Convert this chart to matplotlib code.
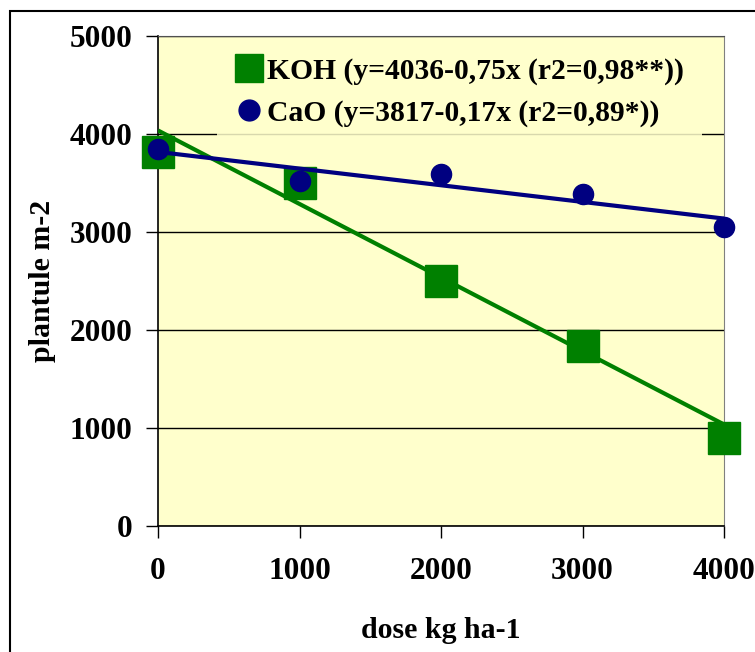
import matplotlib
matplotlib.use("Agg")
import matplotlib.pyplot as plt
from matplotlib.patches import Rectangle
import numpy as np

# ---- data ----
doses = [0, 1000, 2000, 3000, 4000]
koh = [3820, 3495, 2505, 1832, 898]
cao = [3847, 3520, 3595, 3385, 3051]
koh_fit = [4036, -0.75]   # intercept, slope
cao_fit = [3817, -0.17]
koh_label = "KOH (y=4036-0,75x (r2=0,98**))"
cao_label = "CaO (y=3817-0,17x (r2=0,89*))"
xticks = [0, 1000, 2000, 3000, 4000]
yticks = [0, 1000, 2000, 3000, 4000, 5000]
xlabel = "dose kg ha-1"
ylabel = "plantule m-2"

plt.rcParams['font.family'] = ['Liberation Serif', 'DejaVu Serif']
plt.rcParams['font.weight'] = 'bold'

W, H = 755, 652
fig = plt.figure(figsize=(W / 100, H / 100), dpi=100)
fig.patch.set_facecolor('white')

ax = fig.add_axes([158 / W, 1 - 526 / H, 566 / W, 490 / H])
ax.set_facecolor('#FFFFCC')

green = '#008000'
navy = '#000080'

ax.plot(doses, koh, linestyle='none', marker='s', markersize=23.5,
        color=green, label=koh_label, zorder=3, clip_on=False)
ax.plot(doses, cao, linestyle='none', marker='o', markersize=14.5,
        color=navy, label=cao_label, zorder=4, clip_on=False)

xl = np.array([doses[0], doses[-1]], dtype=float)
ax.plot(xl, koh_fit[0] + koh_fit[1] * xl, color=green, lw=3.0, zorder=5,
        solid_capstyle='butt')
ax.plot(xl, cao_fit[0] + cao_fit[1] * xl, color=navy, lw=3.0, zorder=5,
        solid_capstyle='butt')

ax.set_xlim(0, 4000)
ax.set_ylim(0, 5000)
ax.set_xticks(xticks)
ax.set_yticks(yticks)
ax.set_xticklabels([str(v) for v in xticks])
ax.set_yticklabels([str(v) for v in yticks])
ax.tick_params(axis='both', direction='out', length=8.5, width=1,
               labelsize=22.5, color='black')
ax.tick_params(axis='x', pad=14)
ax.tick_params(axis='y', pad=10)
for lab in ax.get_xticklabels() + ax.get_yticklabels():
    lab.set_fontweight('bold')

ax.yaxis.grid(True, color='black', lw=1)
ax.set_axisbelow(True)

for s in ['left', 'bottom']:
    ax.spines[s].set_color('black')
    ax.spines[s].set_linewidth(1.2)
ax.spines['top'].set_color('#505050')
ax.spines['right'].set_color('#808080')

ax.set_xlabel(xlabel, fontsize=21.5, fontweight='bold', labelpad=22)
ax.set_ylabel(ylabel, fontsize=21.5, fontweight='bold', labelpad=10)

leg = ax.legend(loc='upper left', bbox_to_anchor=(0.104, 0.992),
                fontsize=21.3, frameon=True, facecolor='#FFFFCC',
                edgecolor='none', framealpha=0.85, fancybox=False,
                handlelength=1.0, handletextpad=0.1, labelspacing=0.5,
                borderpad=0.6, borderaxespad=0.0)
for t in leg.get_texts():
    t.set_fontweight('bold')
hs = leg.legend_handles
hs[0].set_markersize(20)
hs[1].set_markersize(15)
leg.set_zorder(6)

fig.patches.append(Rectangle((10 / W, -0.2), 1.2, (H - 11) / H + 0.2,
                             transform=fig.transFigure, fill=False,
                             edgecolor='black', lw=1.5, clip_on=False))

fig.savefig('out.png', dpi=100)
